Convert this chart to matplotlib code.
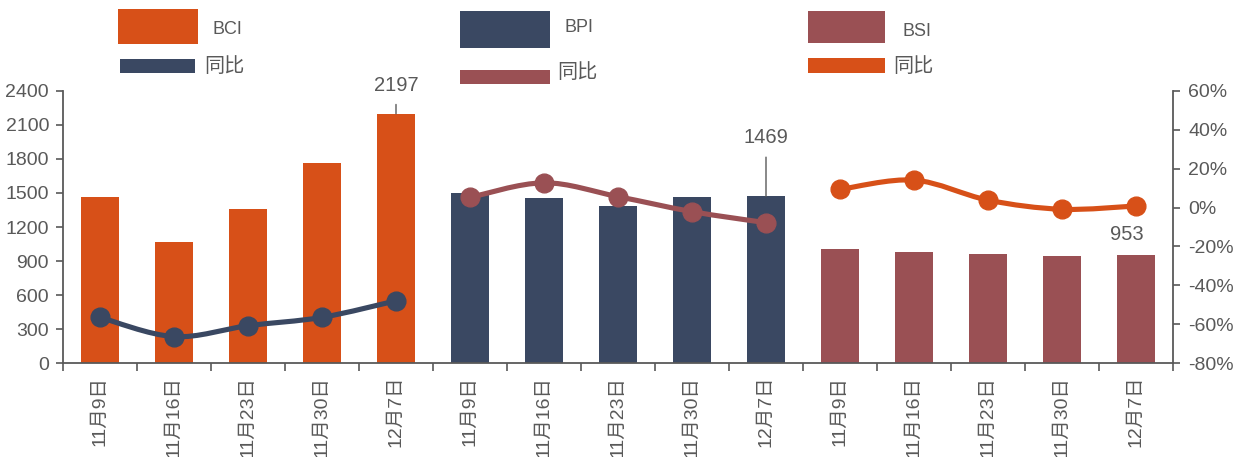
import matplotlib
matplotlib.use("Agg")
import matplotlib.pyplot as plt
from matplotlib.patches import Rectangle, PathPatch
from matplotlib.path import Path
from matplotlib.ticker import FuncFormatter, FixedLocator, NullFormatter
import numpy as np

plt.rcParams['font.family'] = ['Liberation Sans', 'Noto Sans CJK SC', 'DejaVu Sans']

# ---- data ----
dates = ["11月9日", "11月16日", "11月23日", "11月30日", "12月7日"]
bci = [1465, 1065, 1360, 1760, 2197]
bpi = [1497, 1455, 1382, 1467, 1469]
bsi = [1009, 977, 960, 947, 953]
bci_yoy = [-56.4, -66.3, -60.7, -56.4, -47.9]
bpi_yoy = [5.2, 12.7, 5.6, -2.1, -7.8]
bsi_yoy = [9.3, 14.1, 3.8, -0.9, 0.8]

ORANGE = "#D75018"
NAVY = "#3A4862"
MAROON = "#9A5054"
GREY = "#595959"

W, H = 1238, 457
fig = plt.figure(figsize=(W / 100, H / 100), dpi=100)
ax = fig.add_axes([63 / W, 1 - 363.3 / H, 1110 / W, 272.6 / H])
ax2 = ax.twinx()

groups = [
    ("BCI", bci, bci_yoy, ORANGE, NAVY),
    ("BPI", bpi, bpi_yoy, NAVY, MAROON),
    ("BSI", bsi, bsi_yoy, MAROON, ORANGE),
]

labels = dates * len(groups)
n = len(labels)


def smooth_path(xs, ys):
    """Catmull-Rom curve through the points, as cubic Bezier segments."""
    pts = np.column_stack([xs, ys]).astype(float)
    verts = [pts[0]]
    codes = [Path.MOVETO]
    for i in range(len(pts) - 1):
        p0 = pts[i - 1] if i > 0 else pts[i]
        p1 = pts[i]
        p2 = pts[i + 1]
        p3 = pts[i + 2] if i + 2 < len(pts) else pts[i + 1]
        c1 = p1 + (p2 - p0) / 6.0
        c2 = p2 - (p3 - p1) / 6.0
        verts += [c1, c2, p2]
        codes += [Path.CURVE4] * 3
    return Path(verts, codes)


for g, (name, vals, yoy, bar_c, line_c) in enumerate(groups):
    xs = np.arange(len(vals)) + g * len(dates)
    ax.bar(xs, vals, width=0.51, color=bar_c, zorder=2)
    ax2.add_patch(PathPatch(smooth_path(xs, yoy), facecolor="none",
                            edgecolor=line_c, lw=3.7, capstyle="round",
                            joinstyle="round", zorder=3))
    ax2.plot(xs, yoy, ls="none", marker="o", ms=13.5, color=line_c, zorder=4)

# value labels on the last bar of each group
ann_kw = dict(ha="center", va="bottom", fontsize=14.5, color=GREY,
              textcoords="offset pixels")
ax.annotate(f"{bci[-1]}", xy=(4, bci[-1]), xytext=(0, 19),
            arrowprops=dict(arrowstyle="-", color=GREY, lw=1.0,
                            shrinkA=5, shrinkB=0), **ann_kw)
ax.annotate(f"{bpi[-1]}", xy=(9, bpi[-1]), xytext=(0, 49),
            arrowprops=dict(arrowstyle="-", color=GREY, lw=1.0,
                            shrinkA=5, shrinkB=0), **ann_kw)
ax.annotate(f"{bsi[-1]}", xy=(14, bsi[-1]), xytext=(-9, 11), **ann_kw)

# axes limits and ticks
ax.set_xlim(-0.5, n - 0.5)
ax.set_ylim(0, 2400)
ax.set_yticks(np.arange(0, 2401, 300))
ax2.set_ylim(-80, 60)
ax2.set_yticks(np.arange(-80, 61, 20))
ax2.yaxis.set_major_formatter(FuncFormatter(lambda v, p: f"{v:.0f}%"))

ax.xaxis.set_major_locator(FixedLocator(np.arange(-0.5, n, 1.0)))
ax.xaxis.set_major_formatter(NullFormatter())
ax.xaxis.set_minor_locator(FixedLocator(np.arange(n)))
ax.set_xticklabels(labels, minor=True, rotation=90, fontsize=14, color=GREY)
ax.tick_params(axis="x", which="major", direction="out", length=6,
               width=1.2, color=GREY)
ax.tick_params(axis="x", which="minor", length=0, pad=9)
ax.tick_params(axis="y", direction="out", length=5, width=1.2,
               color=GREY, labelcolor=GREY, labelsize=14, pad=5)
ax2.tick_params(axis="y", direction="out", length=5, width=1.2,
                color=GREY, labelcolor=GREY, labelsize=14, pad=6)

for a in (ax, ax2):
    a.spines["top"].set_visible(False)
    for s in ("left", "right", "bottom"):
        a.spines[s].set_color(GREY)
        a.spines[s].set_linewidth(1.3)
ax.spines["right"].set_visible(False)
ax2.spines["left"].set_visible(False)
ax2.spines["bottom"].set_visible(False)
ax.set_zorder(1)
ax2.set_zorder(2)
ax.patch.set_visible(False)


# legend drawn as figure artists, one column per index
def fig_rect(x0, y0, x1, y1, color):
    fig.add_artist(Rectangle((x0 / W, 1 - y1 / H), (x1 - x0) / W,
                             (y1 - y0) / H, transform=fig.transFigure,
                             facecolor=color, edgecolor="none"))


def fig_text(x, y, s, size):
    fig.text(x / W, 1 - y / H, s, ha="left", va="center", fontsize=size,
             color=GREY)


legend_layout = [
    # (patch box, name x/y, line box, 同比 x/y)
    ((118, 9, 198, 44), (212, 30), (120, 59, 195, 73), (204, 66)),
    ((460, 11, 550, 48), (565, 28), (460, 70, 550, 84), (557, 73)),
    ((808, 11, 885, 43), (903, 31), (808, 58, 885, 73), (893, 66)),
]
for (name, vals, yoy, bar_c, line_c), (pb, nt, lb, lt) in zip(groups, legend_layout):
    fig_rect(*pb, bar_c)
    fig_text(*nt, name, 13)
    fig_rect(*lb, line_c)
    fig_text(*lt, "同比", 14.5)

fig.savefig("out.png", dpi=100)
